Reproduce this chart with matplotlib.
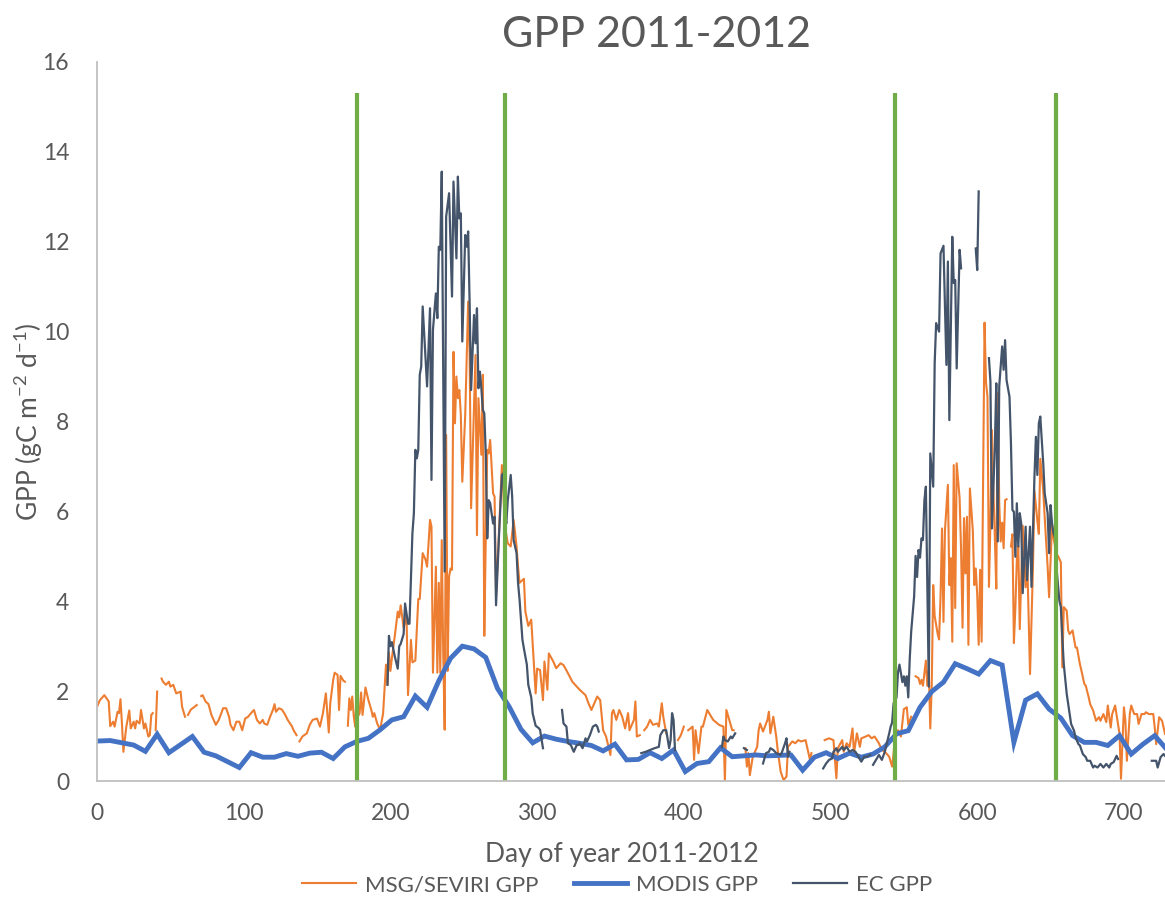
import numpy as np
import matplotlib
matplotlib.use("Agg")
import matplotlib.pyplot as plt
from matplotlib.lines import Line2D

nan = np.nan

# MSG/SEVIRI daily GPP (day, gC m-2 d-1); nan marks missing days
msg = [(0,1.65),(2,1.80),(5,1.91),(8,1.77),(9,1.22),(11,1.32),(12,1.21),(14,1.54),(15,1.51),(16,1.82),
       (17,1.28),(18,0.65),(20,1.21),(22,1.57),(23,1.17),(25,1.32),(26,1.17),(27,1.34),(29,1.28),(30,1.58),
       (32,1.17),(33,1.28),(35,0.99),(36,1.02),(37,1.47),(38,1.51),(39,nan),(40,1.13),(41,1.99),(42,nan),
       (44,2.28),(45,2.21),(47,2.14),(49,2.21),(50,2.10),(52,2.14),(54,1.95),(57,1.99),(58,1.65),(60,1.43),
       (61,nan),(62,1.47),(64,1.59),(68,1.69),(69,nan),(71,1.89),(72,1.91),(74,1.77),(76,1.71),(78,1.47),
       (81,1.25),(83,1.36),(86,1.62),(88,1.62),(90,1.43),(91,1.25),(93,1.13),(95,1.32),(97,1.32),(99,1.13),
       (101,1.39),(103,1.43),(105,1.51),(107,1.58),(109,1.36),(111,1.28),(113,1.36),(114,1.28),(116,1.25),
       (118,1.43),(120,1.59),(121,1.71),(122,1.54),(124,1.62),(126,1.59),(128,1.49),(130,1.36),(133,1.21),
       (134,1.13),(136,1.02),(137,nan),(138,0.88),(140,0.99),(143,1.06),(145,1.25),(147,1.36),(150,1.39),
       (152,1.21),(154,1.51),(156,1.95),(158,1.08),(159,1.73),(161,2.25),(162,2.41),(164,2.36),(165,1.58),
       (166,2.34),(168,2.23),(169,2.21),(170,nan),(171,1.23),(172,1.84),(173,1.58),(174,1.88),(175,1.45),
       (176,1.21),(177,1.86),(178,1.45),(179,1.51),(180,1.97),(181,1.47),(183,2.08),(185,1.80),(187,1.58),
       (188,1.43),(189,1.51),(191,1.28),(193,1.14),(195,1.50),(197,2.59),(198,2.14),(199,2.86),(200,2.45),
       (201,2.73),(203,3.23),(205,3.77),(206,3.64),(207,3.91),(209,3.41),(211,3.68),(212,1.91),(214,3.14),
       (215,2.64),(217,2.68),(219,4.05),(220,4.05),(222,5.07),(224,4.92),(225,4.77),(227,5.81),(228,5.66),
       (229,2.41),(231,4.77),(232,2.41),(233,4.41),(234,2.41),(235,5.36),(236,2.86),(237,1.14),(238,7.70),
       (239,2.45),(240,4.55),(241,4.73),(242,4.70),(243,9.55),(244,7.96),(245,9.00),(246,8.52),(247,8.70),
       (248,8.15),(249,6.66),(251,8.15),(253,10.67),(254,9.52),(255,6.07),(257,8.33),(258,9.48),(259,5.47),
       (260,8.52),(262,7.26),(263,9.04),(264,3.23),(265,5.40),(266,7.37),(267,7.29),(268,7.59),(270,6.40),
       (271,6.33),(272,4.14),(274,5.51),(276,7.03),(277,6.40),(278,5.68),(280,5.29),(282,5.22),(284,5.81),
       (285,5.51),(286,5.22),(287,4.77),(288,4.41),(291,4.50),(292,3.77),(294,3.45),(296,3.59),(297,3.05),
       (299,1.95),(300,2.50),(302,2.47),(304,1.80),(305,2.66),(307,2.03),(308,2.84),(311,2.66),(313,2.51),
       (316,2.62),(318,2.58),(321,2.40),(324,2.21),(327,2.10),(329,2.03),(333,1.91),(335,1.73),(337,1.58),
       (339,1.73),(341,1.88),(343,1.80),(345,1.13),(347,0.99),(350,0.58),(351,1.51),(352,1.58),(354,1.36),
       (356,1.58),(358,1.43),(360,1.17),(362,1.51),(363,1.13),(366,1.36),(367,1.77),(368,0.99),(370,1.02),
       (371,nan),(373,1.13),(375,1.21),(377,1.36),(379,1.25),(382,1.28),(383,1.21),(385,1.73),(386,1.43),
       (388,1.06),(390,nan),(396,0.91),(398,1.02),(400,1.21),(401,nan),(403,1.13),(406,1.21),(407,0.47),
       (408,1.13),(410,0.62),(412,1.21),(413,1.21),(416,1.58),(418,1.47),(420,1.36),(424,1.25),(427,1.21),
       (428,0.00),(429,1.58),(431,1.36),(433,1.13),(434,1.13),(436,nan),(442,0.73),(443,0.32),(444,0.62),
       (445,0.13),(447,0.54),(450,0.76),(451,1.13),(452,1.28),(454,1.10),(457,1.36),(458,1.54),(459,1.06),
       (461,1.43),(463,0.99),(464,0.69),(466,0.21),(468,0.02),(470,0.10),(471,0.76),(474,0.88),(476,0.84),
       (478,0.91),(480,0.88),(483,0.91),(484,0.76),(486,0.47),(487,0.62),(489,nan),(496,0.91),(499,0.95),
       (502,0.91),(504,0.06),(505,0.73),(508,0.91),(509,0.65),(511,0.84),(513,0.76),(515,1.17),(516,0.62),
       (518,1.06),(520,0.76),(521,0.95),(524,0.99),(526,1.02),(528,0.95),(530,0.99),(533,0.84),(535,0.69),
       (537,0.65),(539,0.58),(540,0.54),(542,0.32),(543,0.62),(544,0.99),(546,1.13),(548,0.99),(550,1.60),
       (552,1.64),(553,1.25),(555,1.43),(557,nan),(558,2.33),(560,2.29),(561,2.16),(562,2.25),(563,2.12),
       (565,2.68),(566,2.12),(567,2.46),(568,1.17),(569,2.12),(570,4.36),(571,3.67),(573,3.28),(574,3.15),
       (575,4.11),(576,5.62),(577,3.54),(578,5.57),(580,6.59),(581,4.36),(582,4.96),(583,3.10),(584,7.03),
       (585,3.85),(586,7.07),(588,6.29),(589,5.14),(590,3.41),(591,5.85),(592,4.62),(593,5.88),(594,3.03),
       (595,6.51),(597,5.57),(598,4.36),(599,4.73),(600,4.15),(601,3.03),(602,4.70),(603,3.10),(605,10.20),
       (606,8.86),(607,8.55),(608,4.32),(609,5.75),(610,7.81),(611,6.50),(612,5.44),(613,4.28),(614,8.63),
       (615,6.18),(616,5.33),(617,5.75),(618,5.18),(619,6.25),(620,6.27),(621,nan),(623,5.22),(624,5.49),
       (625,3.07),(626,3.85),(627,4.92),(628,5.23),(629,3.38),(631,5.68),(633,4.31),(634,5.05),(636,2.38),
       (638,4.76),(639,6.46),(641,5.79),(642,5.50),(643,7.17),(645,6.46),(646,5.87),(648,4.76),(649,4.09),
       (651,5.72),(652,5.42),(654,5.05),(655,5.01),(657,4.87),(658,2.53),(659,3.87),(661,3.79),(662,3.35),
       (663,3.27),(665,3.35),(667,2.97),(668,2.97),(670,2.60),(671,2.46),(673,2.16),(674,2.12),(676,1.86),
       (677,1.71),(679,1.57),(681,1.34),(683,1.42),(684,1.34),(686,1.49),(688,1.31),(689,1.68),(691,1.19),
       (692,1.49),(694,1.68),(696,1.27),(697,1.05),(698,0.05),(700,1.64),(701,1.34),(702,0.45),(704,1.49),
       (705,1.68),(707,1.49),(709,1.49),(710,1.27),(712,1.49),(714,1.49),(715,1.53),(717,1.49),(719,1.49),
       (720,1.49),(721,1.19),(722,0.82),(724,1.42),(726,1.34),(728,1.05)]

# MODIS 8-day GPP
modis_day = np.arange(1, 730, 8)
modis_gpp = [0.89, 0.90, 0.85, 0.80, 0.66, 1.04, 0.63, 0.81, 0.99, 0.64,
             0.56, 0.43, 0.30, 0.63, 0.53, 0.53, 0.61, 0.55, 0.62, 0.64,
             0.50, 0.76, 0.88, 0.95, 1.14, 1.36, 1.43, 1.89, 1.64, 2.23,
             2.73, 3.00, 2.94, 2.75, 2.06, 1.65, 1.15, 0.85, 1.00, 0.93,
             0.88, 0.84, 0.79, 0.67, 0.82, 0.47, 0.48, 0.63, 0.50, 0.69,
             0.21, 0.39, 0.43, 0.74, 0.54, 0.56, 0.58, 0.56, 0.57, 0.58,
             0.24, 0.53, 0.63, 0.50, 0.62, 0.53, 0.60, 0.76, 1.05, 1.12,
             1.64, 1.99, 2.20, 2.61, 2.50, 2.38, 2.68, 2.58, 0.86, 1.80,
             1.94, 1.60, 1.40, 1.01, 0.86, 0.86, 0.79, 1.01, 0.60, 0.82,
             1.01, 0.71]

# eddy covariance tower GPP
ec = [(198,2.14),(199,3.23),(200,3.00),(201,3.09),(203,2.77),(205,2.50),(206,3.00),(207,3.05),(209,3.27),
      (210,3.95),(212,3.50),(213,3.50),(214,4.47),(215,5.51),(216,5.96),(217,7.37),(218,7.18),(219,7.37),
      (220,9.04),(221,9.22),(222,10.56),(225,8.78),(227,10.52),(228,6.70),(229,10.04),(231,10.85),
      (232,10.30),(233,11.89),(234,11.82),(235,13.56),(237,4.66),(238,12.56),(240,13.08),(242,10.78),
      (243,13.34),(245,11.63),(246,13.45),(247,12.52),(248,12.63),(249,9.78),(251,12.15),(252,11.89),
      (253,12.23),(254,10.63),(255,8.70),(257,10.37),(258,9.74),(259,10.52),(260,8.74),(261,9.11),
      (262,8.74),(263,8.26),(264,8.18),(265,7.29),(266,5.40),(267,6.25),(268,6.18),(270,5.73),(271,5.88),
      (272,3.91),(274,5.44),(276,6.81),(277,6.85),(278,5.96),(279,5.73),(280,6.25),(282,6.81),(283,6.33),
      (284,5.36),(286,5.07),(287,4.41),(288,4.05),(290,3.14),(291,2.95),(293,2.59),(294,2.14),(296,1.86),
      (297,1.50),(299,1.23),(301,1.18),(302,1.14),(304,0.73),(305,nan),(317,1.58),(318,1.28),(320,1.21),
      (321,0.84),(323,0.80),(325,0.65),(327,0.80),(328,0.80),(329,0.84),(331,0.73),(333,0.95),(334,0.88),
      (336,1.02),(338,1.21),(340,1.25),(341,1.21),(342,1.10),(343,nan),(371,0.62),(374,0.65),(377,0.69),
      (380,0.73),(383,0.76),(384,1.02),(386,1.13),(388,1.13),(390,0.73),(391,0.91),(392,1.51),(393,1.36),
      (394,0.69),(395,nan),(426,0.76),(427,0.99),(428,0.91),(430,0.88),(432,0.99),(433,0.95),(435,1.06),
      (436,nan),(441,0.73),(443,0.69),(444,nan),(454,0.39),(456,0.62),(458,0.65),(459,0.73),(461,0.69),
      (463,0.62),(466,0.58),(467,0.65),(469,0.84),(470,0.95),(471,0.54),(472,0.65),(473,nan),(495,0.28),
      (497,0.39),(499,0.47),(501,0.50),(502,0.65),(504,0.73),(505,0.65),(508,0.76),(509,0.69),(511,0.76),
      (513,0.65),(515,0.69),(517,0.65),(519,0.54),(521,0.43),(523,0.54),(525,0.54),(527,0.58),(528,nan),
      (529,0.36),(531,0.47),(533,0.58),(535,0.47),(537,0.65),(540,1.06),(541,1.21),(542,1.30),(543,1.73),
      (545,1.86),(546,2.42),(547,2.59),(549,2.20),(550,2.33),(551,2.12),(552,2.33),(553,1.86),(554,2.72),
      (555,3.33),(557,4.11),(558,5.01),(559,4.54),(560,5.14),(561,4.97),(562,5.40),(563,5.36),(564,6.25),
      (565,6.55),(567,2.10),(568,7.29),(570,6.55),(571,9.30),(572,10.19),(574,10.00),(575,11.74),
      (577,11.91),(579,9.26),(580,11.56),(581,8.03),(583,12.11),(584,11.08),(585,11.15),(586,9.18),
      (588,11.82),(589,11.41),(590,nan),(599,11.85),(600,11.37),(601,13.12),(602,nan),(608,9.41),
      (609,8.89),(610,5.62),(612,7.44),(613,8.85),(614,5.33),(615,8.78),(617,9.67),(618,9.15),(619,9.81),
      (620,8.92),(622,8.55),(623,7.51),(624,6.03),(625,5.99),(626,4.99),(627,6.18),(628,5.22),(629,5.96),
      (630,5.73),(631,4.18),(633,5.66),(634,4.47),(636,5.66),(637,4.32),(639,6.77),(640,7.66),(641,6.81),
      (642,7.96),(643,8.11),(645,7.07),(646,6.40),(648,5.96),(649,5.07),(650,6.14),(651,5.73),(652,5.51),
      (653,5.42),(654,4.76),(656,4.01),(657,3.87),(658,3.20),(659,2.60),(661,1.94),(663,1.49),(664,1.27),
      (666,1.12),(667,0.97),(669,0.82),(670,0.79),(672,0.60),(674,0.53),(675,0.45),(677,0.45),(679,0.30),
      (680,0.34),(682,0.30),(684,0.38),(686,0.30),(688,0.38),(690,0.30),(691,0.38),(693,0.42),(695,0.56),
      (696,0.49),(697,nan),(719,0.45),(722,0.45),(723,0.30),(725,0.53),(727,0.60),(728,0.56)]

# growing season start / end markers
season_days = [177, 278, 544, 654]
season_top = 15.3

msg_day, msg_gpp = np.array(msg).T
ec_day, ec_gpp = np.array(ec).T

plt.rcParams['font.family'] = ['Lato', 'DejaVu Sans']
plt.rcParams['mathtext.default'] = 'regular'
grey = '#595959'

fig = plt.figure(figsize=(11.65, 9), dpi=100)
ax = fig.add_axes([97/1165, 1-781/900, 1-97/1165, (781-62)/900])

ax.plot(msg_day, msg_gpp, color='#ED7D31', lw=1.5)
ax.plot(modis_day, modis_gpp, color='#4472C4', lw=3.5, solid_joinstyle='miter')
ax.plot(ec_day, ec_gpp, color='#44546A', lw=1.6)
ax.vlines(season_days, 0, season_top, color='#70AD47', lw=3)

ax.set_xlim(0, 728)
ax.set_ylim(0, 16)
ax.set_xticks(range(0, 701, 100))
ax.set_yticks(range(0, 17, 2))
ax.tick_params(length=0, labelsize=16.5, labelcolor=grey)
ax.tick_params(axis='x', pad=16)
ax.tick_params(axis='y', pad=20)
for s in ['top', 'right']:
    ax.spines[s].set_visible(False)
for s in ['left', 'bottom']:
    ax.spines[s].set_color('#BFBFBF')
    ax.spines[s].set_linewidth(1.3)

ax.set_xlabel('Day of year 2011-2012', fontsize=19, color=grey)
ax.xaxis.set_label_coords((622-97)/1068, -(842-781)/719)
ax.set_ylabel('GPP (gC m$^{-2}$ d$^{-1}$)', fontsize=19, color=grey, va='center')
ax.yaxis.set_label_coords(-(97-29)/1068, 0.5)
fig.text(657/1165, 1-35/900, 'GPP 2011-2012', fontsize=31, color=grey, ha='center', va='center')

handles = [Line2D([], [], color='#ED7D31', lw=1.5),
           Line2D([], [], color='#4472C4', lw=3.5),
           Line2D([], [], color='#44546A', lw=1.6)]
fig.legend(handles, ['MSG/SEVIRI GPP', 'MODIS GPP', 'EC GPP'], loc='center',
           bbox_to_anchor=(617/1165, 1-885/900), ncol=3, frameon=False,
           fontsize=16, labelcolor=grey, handlelength=2.4, columnspacing=1.6, handletextpad=0.4)

fig.savefig('out.png', dpi=100)
